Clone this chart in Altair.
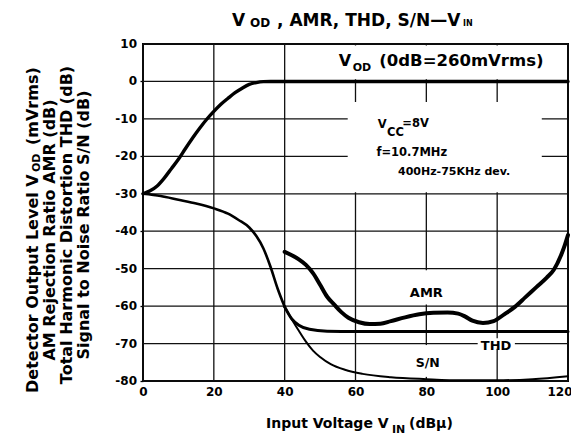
import altair as alt
import pandas as pd

FONT = "DejaVu Sans"

# ---------------- data ----------------
vod_x = [0, 2, 4, 6, 8, 10, 12, 14, 16, 18, 20, 22, 24, 26, 28, 30, 32, 34, 36, 60, 90, 120]
vod_y = [-30, -29.2, -27.9, -25.8, -23.3, -20.8, -17.9, -15.1, -12.5, -10.1, -8.0,
         -6.1, -4.5, -3.0, -1.8, -0.8, -0.3, -0.05, 0, 0, 0, 0]

shared_x = [0, 5, 10, 15, 20, 24, 27, 30, 32, 34, 36, 38, 40]
shared_y = [-30, -30.6, -31.6, -32.6, -33.9, -35.3, -37.0, -39.0, -41.3, -44.6, -49.5, -55.3, -60.2]

thd_x = [42, 44, 47, 52, 60, 80, 100, 120]
thd_y = [-63.4, -65.1, -66.2, -66.7, -66.8, -66.8, -66.8, -66.8]

sn_x = [42, 44, 46, 48, 50, 53, 57, 62, 70, 80, 90, 100, 110, 120]
sn_y = [-63.5, -66.6, -69.5, -71.9, -73.6, -75.5, -77.0, -78.1, -79.0, -79.5, -79.8, -79.8, -79.5, -78.7]

amr_x = [40, 42, 44, 46, 48, 50, 52, 54, 56, 58, 61, 64, 67, 70, 74, 78, 82, 86, 89, 91,
         93, 96, 99, 102, 105, 108, 111, 114, 116, 118, 119, 120]
amr_y = [-45.5, -46.4, -47.5, -49.0, -51.2, -54.3, -57.5, -59.6, -61.6, -63.1, -64.3, -64.8,
         -64.7, -64.0, -63.0, -62.2, -61.8, -61.7, -62.0, -62.8, -63.9, -64.5, -64.0, -62.2,
         -60.2, -57.6, -55.0, -52.4, -50.3, -46.5, -44.0, -41.0]

x_ticks = [0, 20, 40, 60, 80, 100, 120]
y_ticks = [-80, -70, -60, -50, -40, -30, -20, -10, 0, 10]
y_tick_labels = ["-80", "-70", "-60", "-50", "-40", "-30", "-20", "-10", "0", "10"]

# ---------------- scales / axes ----------------
xs = alt.Scale(domain=[0, 120], nice=False, zero=False)
ys = alt.Scale(domain=[-80, 10], nice=False, zero=False)

AX = alt.Axis(values=x_ticks, grid=False, ticks=False, domain=False, title=None,
              labelFont=FONT, labelFontSize=12, labelFontWeight="bold",
              labelColor="black", labelPadding=5, labelOverlap=False,
              labelAlign={"condition": {"test": "datum.value == 120", "value": "right"},
                          "value": "center"},
              labelOffset={"condition": {"test": "datum.value == 120", "value": 4},
                           "value": 0})
AY = alt.Axis(values=y_ticks, grid=False, ticks=True, tickSize=3, tickColor="black",
              tickWidth=1.3, domain=False, title=None, labels=False)

# grid lines (axes are attached to these two layers only)
vgrid = alt.Chart(pd.DataFrame({"x": x_ticks})).mark_rule(color="#111111", strokeWidth=1.3).encode(
    x=alt.X("x:Q", scale=xs, axis=AX, title=None))
hgrid = alt.Chart(pd.DataFrame({"y": y_ticks})).mark_rule(color="#111111", strokeWidth=1.3).encode(
    y=alt.Y("y:Q", scale=ys, axis=AY, title=None))


def X(field):
    return alt.X(field, scale=xs, title=None)


def Y(field):
    return alt.Y(field, scale=ys, title=None)


# y tick labels drawn through the y scale
ylabels = alt.Chart(pd.DataFrame({"y": y_ticks, "lab": y_tick_labels})).mark_text(
    align="right", baseline="middle", font=FONT, fontSize=12, fontWeight="bold",
    color="black").encode(y=Y("y:Q"), x=alt.value(-6), text="lab:N")


def line_df(xv, yv):
    return pd.DataFrame({"x": xv, "y": yv, "o": list(range(len(xv)))})


def curve(df, width):
    return alt.Chart(df).mark_line(color="black", strokeWidth=width, interpolate="monotone",
                                   strokeCap="round", strokeJoin="round").encode(
        x=X("x:Q"), y=Y("y:Q"), order="o:Q")


# white backgrounds behind the in-plot labels (interrupt the grid as in the original)
bg = pd.DataFrame({
    "x": [40.4, 57.8, 75.0, 76.0, 94.5],
    "x2": [119.6, 112.6, 85.0, 84.5, 105.0],
    "y": [0.6, -5.5, -50.4, -70.4, -68.6],
    "y2": [9.6, -29.6, -59.6, -78.9, -71.4],
})
rects = alt.Chart(bg).mark_rect(color="white", opacity=1).encode(
    x=X("x:Q"), x2="x2:Q", y=Y("y:Q"), y2="y2:Q")


def dtext(txt, x, y, size, align="left", baseline="alphabetic", weight="bold"):
    return alt.Chart(pd.DataFrame({"x": [x], "y": [y], "t": [txt]})).mark_text(
        align=align, baseline=baseline, fontSize=size, font=FONT, fontWeight=weight,
        color="black").encode(x=X("x:Q"), y=Y("y:Q"), text="t:N")


def ptext(txt, px, py, size, align="left", baseline="alphabetic", weight="bold", angle=0):
    kw = dict(align=align, baseline=baseline, fontSize=size, font=FONT, fontWeight=weight,
              color="black")
    if angle:
        kw["angle"] = angle
    return alt.Chart(pd.DataFrame({"t": [txt]})).mark_text(**kw).encode(
        x=alt.value(px), y=alt.value(py), text="t:N")


labels = [
    dtext("V", 55.3, 4.25, 16),
    dtext("OD", 59.2, 2.8, 11),
    dtext("(0dB=260mVrms)", 66.7, 4.25, 16.5),
    dtext("V", 66.3, -12.3, 11.5),
    dtext("CC", 68.9, -14.5, 11.5),
    dtext("=8V", 73.2, -12.1, 11.5),
    dtext("f=10.7MHz", 65.9, -19.9, 11.5),
    dtext("400Hz-75KHz dev.", 72.0, -25.0, 11),
    dtext("AMR", 80.0, -57.6, 13, align="center"),
    dtext("THD", 99.7, -71.8, 13, align="center"),
    dtext("S/N", 80.4, -76.3, 12.5, align="center"),
]

titles = [
    ptext("V", 89, -18, 17),
    ptext("OD", 107, -17.3, 12),
    ptext(", AMR, THD, S/N\u2014V", 134, -18, 17),
    ptext("IN", 320, -18, 8),
    ptext("Input Voltage V", 123, 384, 14),
    ptext("IN", 249, 388.5, 11),
    ptext("(dB\u03bc)", 266, 384, 14),
    ptext("Detector Output Level V", -110, 349, 16, baseline="middle", angle=270),
    ptext("OD", -106.5, 128, 11, baseline="middle", angle=270),
    ptext("(mVrms)", -110, 101, 16, baseline="middle", angle=270),
    ptext("AM Rejection Ratio AMR (dB)", -93, 186, 16, align="center", baseline="middle", angle=270),
    ptext("Total Harmonic Distortion THD (dB)", -76, 181, 16, align="center", baseline="middle", angle=270),
    ptext("Signal to Noise Ratio S/N (dB)", -59, 181, 16, align="center", baseline="middle", angle=270),
]

curves = [
    curve(line_df(shared_x, shared_y), 2.6),
    curve(line_df([40] + thd_x, [-60.2] + thd_y), 3.0),
    curve(line_df([40] + sn_x, [-60.2] + sn_y), 2.0),
    curve(line_df(amr_x, amr_y), 4.0),
    curve(line_df(vod_x, vod_y), 3.4),
]

chart = alt.layer(vgrid, hgrid, rects, *curves, *labels, ylabels, *titles).properties(
    width=425, height=337,
    padding={"left": 135, "top": 36, "right": 3, "bottom": 53},
    autosize=alt.AutoSizeParams(type="none"),
).configure_view(stroke="black", strokeWidth=2).configure_axis(labelOverlap=False)

chart.save("out.html", embed_options={"renderer": "svg", "actions": False})
